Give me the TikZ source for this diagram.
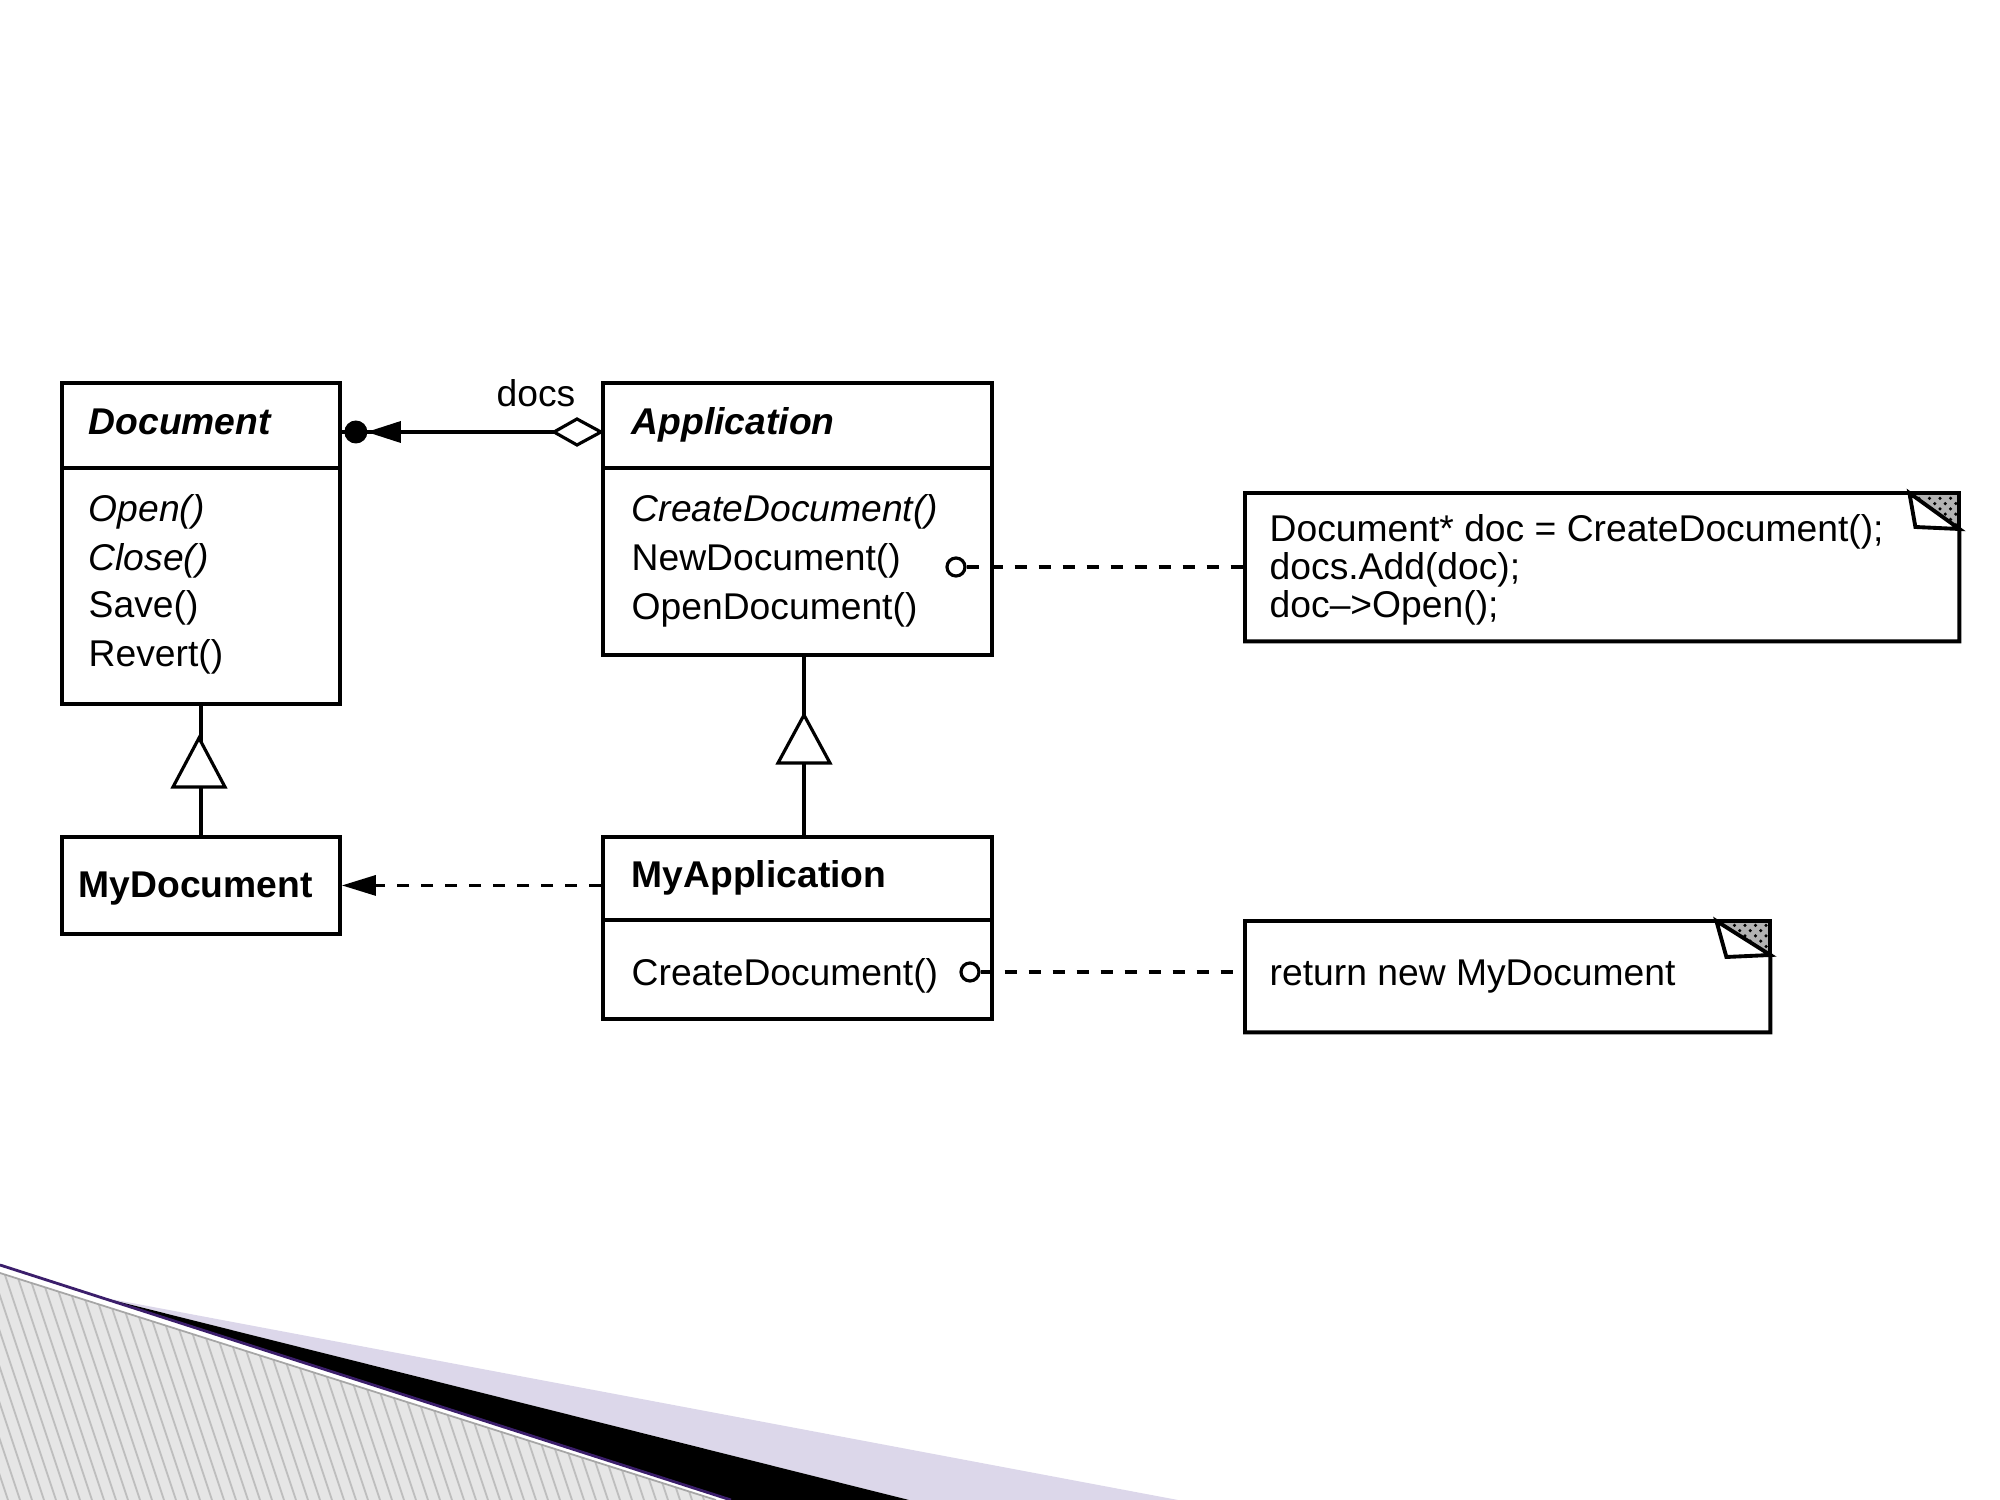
\documentclass[tikz,border=0pt]{standalone}
\usepackage{fontspec}
\setmainfont{Liberation Sans}
\usetikzlibrary{arrows.meta,calc,patterns}
\definecolor{lavender}{HTML}{DCD7EA}
\definecolor{darkpurple}{HTML}{3B1E6B}
\definecolor{hatchbg}{HTML}{E6E6E6}
\definecolor{hatchln}{HTML}{BEBEBE}
\begin{document}
\begin{tikzpicture}[x=0.1mm,y=-0.1mm,
  classbox/.style={draw, line width=1.1pt, anchor=north west, inner sep=0pt},
  sepline/.style={line width=1.1pt},
  conn/.style={line width=0.9pt},
  dsh/.style={dash pattern=on 1.2mm off 1.2mm},
  txt/.style={anchor=base west, inner sep=0pt, font=\fontsize{10.6}{13}\selectfont},
  lolli/.style={circle, draw, line width=0.9pt, fill=white, minimum size=1.8mm, inner sep=0pt},
  notebox/.style={anchor=north west, inner sep=0pt},
  noteline/.style={line width=1.1pt, line join=miter}]
\useasboundingbox (0,0) rectangle (2000,1500);

% ---------- slide decoration (bottom left) ----------
\fill[hatchbg] (0,1273) -- (716,1500) -- (0,1500) -- cycle;
\begin{scope}
  \clip (0,1273) -- (716,1500) -- (0,1500) -- cycle;
  \foreach \i in {-30,...,62} \draw[hatchln, line width=0.5pt] (\i*12,1260) -- ++(80,240);
\end{scope}
\draw[gray!70, line width=0.5pt] (0,1273) -- (716,1500);
\fill[lavender] (100,1297) -- (1178,1500) -- (909,1500) -- cycle;
\fill[black] (100,1297) -- (909,1500) -- (731,1500) -- cycle;
\draw[darkpurple, line width=0.8pt] (0,1265) -- (731,1500);

% ---------- classes ----------
\node[classbox, minimum width=27.8mm, minimum height=32.1mm] (doc) at (60,381) {};
\draw[sepline] (60,468) -- (338,468);
\node[txt] (docT) at (88,435) {\bfseries\itshape Document};
\node[txt] (docM1) at (88,522) {\itshape Open()};
\node[txt] (docM2) at (88,570) {\itshape Close()};
\node[txt] (docM3) at (88,618) {Save()};
\node[txt] (docM4) at (88,667) {Revert()};

\node[classbox, minimum width=38.9mm, minimum height=27.2mm] (app) at (601,381) {};
\draw[sepline] (601,468) -- (990,468);
\node[txt] (appT) at (631,435) {\bfseries\itshape Application};
\node[txt] (appM1) at (631,522) {\itshape CreateDocument()};
\node[txt] (appM2) at (631,570) {NewDocument()};
\node[txt] (appM3) at (631,620) {OpenDocument()};

\node[classbox, minimum width=27.8mm, minimum height=9.7mm] (mydoc) at (60,835) {};
\node[txt] (mydocT) at (78,897) {\bfseries MyDocument};

\node[classbox, minimum width=38.9mm, minimum height=18.2mm] (myapp) at (601,835) {};
\draw[sepline] (601,920) -- (990,920);
\node[txt] (myappT) at (631,888) {\bfseries MyApplication};
\node[txt] (myappM1) at (631,985) {CreateDocument()};

% ---------- notes ----------
\node[notebox, minimum width=71.3mm, minimum height=14.7mm] (note1) at (1245,493) {};
\draw[noteline] (note1.north west) -- ($(note1.north east)+(-50,0)$) -- ($(note1.north east)+(0,36)$) -- (note1.south east) -- (note1.south west) -- cycle;
\fill[gray!60] ($(note1.north east)+(-50,0)$) -- (note1.north east) -- ($(note1.north east)+(0,36)$) -- cycle;
\fill[pattern=crosshatch dots, pattern color=black] ($(note1.north east)+(-50,0)$) -- (note1.north east) -- ($(note1.north east)+(0,36)$) -- cycle;
\draw[noteline] ($(note1.north east)+(-50,0)$) -- (note1.north east) -- ($(note1.north east)+(0,36)$);
\draw[noteline, fill=white] ($(note1.north east)+(-50,0)$) -- ($(note1.north east)+(-44,34)$) -- ($(note1.north east)+(0,36)$) -- cycle;
\node[txt] (n1a) at (1269,542) {Document* doc = CreateDocument();};
\node[txt] (n1b) at (1269,580) {docs.Add(doc);};
\node[txt] (n1c) at (1269,618) {doc\textendash>Open();};

\node[notebox, minimum width=52.4mm, minimum height=11.0mm] (note2) at (1245,921) {};
\draw[noteline] (note2.north west) -- ($(note2.north east)+(-54,0)$) -- ($(note2.north east)+(0,34)$) -- (note2.south east) -- (note2.south west) -- cycle;
\fill[gray!60] ($(note2.north east)+(-54,0)$) -- (note2.north east) -- ($(note2.north east)+(0,34)$) -- cycle;
\fill[pattern=crosshatch dots, pattern color=black] ($(note2.north east)+(-54,0)$) -- (note2.north east) -- ($(note2.north east)+(0,34)$) -- cycle;
\draw[noteline] ($(note2.north east)+(-54,0)$) -- (note2.north east) -- ($(note2.north east)+(0,34)$);
\draw[noteline, fill=white] ($(note2.north east)+(-54,0)$) -- ($(note2.north east)+(-44,36)$) -- ($(note2.north east)+(0,34)$) -- cycle;
\node[txt] (n2a) at (1269,985) {return new MyDocument};

% ---------- association Application --docs--> Document ----------
\coordinate (aL) at ($(doc.north east)+(0,51)$);
\coordinate (aR) at ($(app.north west)+(0,51)$);
\draw[conn] (aL) -- (aR);
\fill ($(aL)+(14,0)$) circle[radius=1.15mm];
\fill ($(aL)+(25,0)$) -- ($(aL)+(59,-11)$) -- ($(aL)+(59,11)$) -- cycle;
\draw[conn, fill=white] (aR) -- ($(aR)+(-24,-13)$) -- ($(aR)+(-47,0)$) -- ($(aR)+(-24,13)$) -- cycle;
\node[anchor=base, inner sep=0pt, font=\fontsize{10.6}{13}\selectfont] (docs) at (536,407) {docs};

% ---------- generalizations ----------
\draw[conn] (mydoc.north) -- (doc.south);
\draw[conn, fill=white] (199,738) -- (225,787) -- (173,787) -- cycle;
\coordinate (gTop) at ($(app.south west)+(203,0)$);
\coordinate (gBot) at ($(myapp.north west)+(203,0)$);
\draw[conn] (gBot) -- (gTop);
\draw[conn, fill=white] (804,715) -- (830,763) -- (778,763) -- cycle;

% ---------- dependency MyApplication ..> MyDocument ----------
\draw[conn, dsh, -{Triangle[length=3.4mm,width=2.0mm]}] (myapp.west |- mydoc.east) -- (mydoc.east);

% ---------- note attachments ----------
\node[lolli] (lol1) at (956,567) {};
\draw[conn, dsh] (lol1.east) -- (note1.west |- lol1.east);
\node[lolli] (lol2) at (970,972) {};
\draw[conn, dsh] (lol2.east) -- (note2.west |- lol2.east);
\end{tikzpicture}
\end{document}
